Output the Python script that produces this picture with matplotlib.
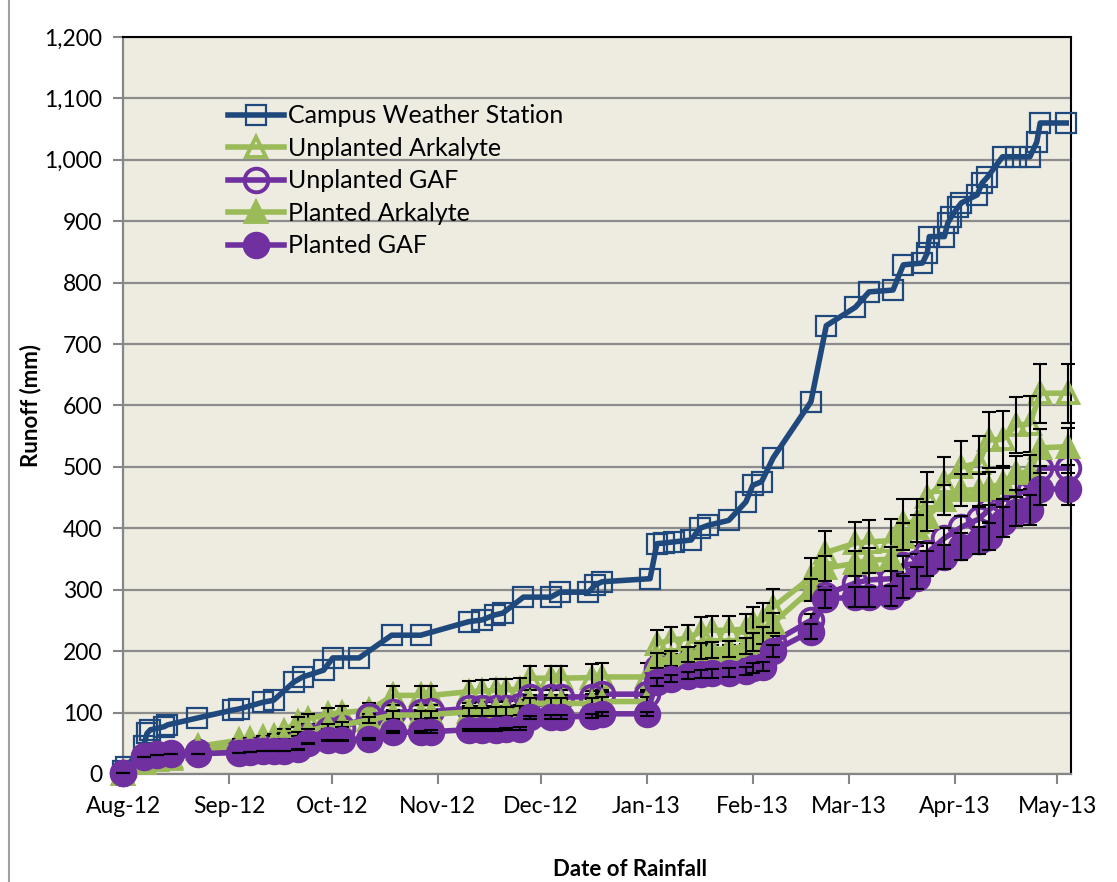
import matplotlib
matplotlib.use("Agg")
import matplotlib.pyplot as plt
import matplotlib.dates as mdates
from matplotlib.ticker import FuncFormatter, MultipleLocator
import pandas as pd

plt.rcParams['font.family'] = ['Lato', 'DejaVu Sans']

start = pd.Timestamp('2012-08-01')

# campus weather station: cumulative rainfall (days after 1 Aug 2012, mm)
campus_days = [0, 1, 6, 7, 8, 12, 13, 21.6, 32, 34,
               41, 44, 50, 52.5, 58.6, 61.3, 69, 78.5, 87, 101,
               105, 108.6, 111, 117, 125, 127.6, 136, 138, 140, 154,
               156, 158, 161, 166, 168.5, 171, 177, 182, 184, 186.6,
               190, 201, 205.5, 214, 218, 225, 228, 233.6, 235, 235.6,
               240, 241, 242, 244, 245, 249.6, 251, 252.6, 257, 261,
               265, 267, 268, 275.6]
campus_mm = [5, 12, 45, 66, 72, 77, 80, 91, 104, 106,
             117, 120, 150, 158, 169, 189, 189, 226, 226, 248,
             251, 259, 262, 288, 288, 296, 296, 308, 313, 318,
             375, 376, 378, 381, 400, 405, 413, 443, 470, 476,
             515, 606, 730, 760, 785, 788, 829, 832, 848, 875,
             875, 897, 907, 923, 930, 943, 962, 972, 1005, 1005,
             1005, 1029, 1060, 1060]

# roof runoff events
roof_days = [0, 6, 10, 14, 22, 34, 37, 41, 44, 47,
             51, 54, 60, 64, 72, 79, 87, 90, 101, 105,
             109, 112, 116, 119, 125, 128, 137, 140, 153, 156,
             160, 165, 169, 172, 177, 182, 184, 187, 190, 201,
             205, 214, 218, 224.5, 228, 232, 235, 240, 245, 250,
             253, 257, 261, 265, 268, 276]

unpl_ark = [0, 20, 25, 28, 45, 55, 57, 60, 62, 70,
            85, 90, 97, 100, 104, 128, 128, 128, 134, 135,
            136, 137, 138, 156, 156, 156, 157, 158, 158, 212,
            218, 221, 232, 234, 234, 236, 246, 250, 272, 320,
            360, 376, 378, 380, 409, 410, 451, 476, 500, 506,
            544, 545, 568, 570, 620, 620]
unpl_ark_err = [0, 1, 1, 1, 2, 2, 2, 2, 3, 4,
                8, 8, 10, 10, 12, 15, 15, 15, 18, 18,
                18, 18, 18, 20, 20, 20, 22, 22, 22, 22,
                22, 22, 24, 24, 24, 25, 26, 28, 30, 32,
                35, 35, 35, 36, 38, 38, 40, 40, 42, 44,
                45, 46, 46, 46, 48, 48]

unpl_gaf = [2, 30, 33, 34, 36, 38, 39, 40, 41, 43,
            50, 62, 72, 75, 95, 101, 101, 102, 107, 107,
            107, 108, 110, 125, 125, 125, 126, 130, 130, 172,
            175, 180, 185, 186, 187, 190, 192, 196, 215, 250,
            292, 311, 316, 318, 340, 343, 360, 384, 402, 415,
            430, 446, 457, 462, 498, 498]
unpl_gaf_err = [0, 0, 0, 0, 0, 0, 0, 0, 0, 0,
                1, 1, 2, 2, 2, 3, 3, 3, 3, 3,
                3, 3, 3, 4, 4, 4, 4, 4, 4, 6,
                6, 6, 7, 7, 7, 7, 8, 8, 9, 11,
                12, 13, 13, 13, 15, 15, 16, 17, 18, 19,
                20, 20, 21, 21, 22, 22]

pl_ark = [0, 18, 22, 25, 40, 45, 46, 48, 50, 55,
          65, 70, 78, 80, 88, 96, 96, 97, 101, 101,
          102, 102, 103, 115, 115, 115, 115, 118, 118, 185,
          188, 195, 200, 202, 204, 208, 215, 225, 246, 300,
          335, 343, 348, 350, 386, 400, 419, 446, 462, 463,
          465, 474, 490, 492, 531, 533]
pl_ark_err = [0, 0, 0, 0, 1, 1, 1, 1, 1, 2,
              3, 3, 4, 4, 5, 6, 6, 6, 7, 7,
              7, 7, 7, 8, 8, 8, 8, 8, 8, 12,
              12, 12, 13, 13, 13, 13, 14, 14, 16, 18,
              20, 20, 20, 20, 22, 22, 24, 25, 26, 26,
              27, 27, 28, 28, 30, 30]

pl_gaf = [2, 28, 31, 32, 33, 35, 36, 37, 38, 38,
          40, 50, 55, 55, 57, 68, 68, 69, 72, 72,
          72, 73, 74, 92, 93, 93, 94, 98, 98, 150,
          155, 160, 163, 164, 165, 168, 172, 175, 200, 232,
          285, 288, 288, 290, 305, 319, 343, 353, 370, 380,
          386, 410, 427, 430, 464, 464]
pl_gaf_err = [0, 0, 0, 0, 0, 0, 0, 0, 0, 0,
              1, 1, 1, 1, 1, 2, 2, 2, 2, 2,
              2, 2, 2, 3, 3, 3, 3, 3, 3, 6,
              6, 6, 7, 7, 7, 7, 8, 8, 10, 13,
              15, 16, 16, 16, 18, 18, 20, 20, 22, 22,
              22, 24, 24, 25, 26, 26]

blue = '#1F497D'
green = '#9BBB59'
purple = '#7030A0'


def to_dates(days):
    return start + pd.to_timedelta(days, unit='D')


fig = plt.figure(figsize=(11.17, 8.82), dpi=100)
ax = fig.add_axes([123 / 1117, 1 - 774 / 882, (1071 - 123) / 1117, (774 - 37) / 882])
ax.set_facecolor('#EEECE1')

cd = to_dates(campus_days)
rd = to_dates(roof_days)

ax.plot(cd, campus_mm, color=blue, lw=4, marker='s', ms=14, mfc='none',
        mec=blue, mew=1.6, label='Campus Weather Station', clip_on=False, zorder=5)

series = [
    (unpl_ark, unpl_ark_err, green, '^', 'none', 'Unplanted Arkalyte'),
    (unpl_gaf, unpl_gaf_err, purple, 'o', 'none', 'Unplanted GAF'),
    (pl_ark, pl_ark_err, green, '^', green, 'Planted Arkalyte'),
    (pl_gaf, pl_gaf_err, purple, 'o', purple, 'Planted GAF'),
]
z = 6
for vals, err, col, mk, face, lab in series:
    ax.errorbar(rd, vals, yerr=err, fmt='none', ecolor='black', elinewidth=1.5,
                capsize=5, capthick=1.5, zorder=z + 0.5, clip_on=False)
    ax.plot(rd, vals, color=col, lw=4, marker=mk, ms=17 if mk == 'o' else 15,
            mfc=face, mec=col, mew=2.8, label=lab, clip_on=False, zorder=z)
    z += 1

ax.set_xlim(start, start + pd.Timedelta(days=277))
ax.set_ylim(0, 1200)
ax.yaxis.set_major_locator(MultipleLocator(100))
ax.yaxis.set_major_formatter(FuncFormatter(lambda v, p: f'{int(v):,}'))
ax.xaxis.set_major_locator(mdates.MonthLocator())
ax.xaxis.set_major_formatter(mdates.DateFormatter('%b-%y'))

ax.grid(axis='y', color='#8C8C8C', lw=1.6)
ax.set_axisbelow(True)
for s in ['left', 'bottom']:
    ax.spines[s].set_color('#868686')
    ax.spines[s].set_linewidth(1.6)
for s in ['top', 'right']:
    ax.spines[s].set_color('black')
    ax.spines[s].set_linewidth(1.5)
ax.tick_params(axis='both', direction='out', length=7, width=1.5, color='#868686',
               labelsize=16.5, labelcolor='black')
ax.tick_params(axis='y', pad=8)
ax.tick_params(axis='x', pad=9)

ax.set_ylabel('Runoff (mm)', fontsize=16, fontweight='bold')
ax.yaxis.set_label_coords(-0.086, 0.5)
fig.text(630 / 1117, 1 - 870 / 882, 'Date of Rainfall', fontsize=16,
         fontweight='bold', ha='center', va='center')

leg = ax.legend(loc='upper left', bbox_to_anchor=(0.100, 0.922), frameon=False,
                fontsize=18, handlelength=2.25, handletextpad=0.15, labelspacing=0.38,
                borderaxespad=0)

fig.add_artist(plt.Line2D([9 / 1117, 9 / 1117], [0, 1], color='#A0A0A0', lw=1.5))

fig.savefig('out.png', dpi=100)
